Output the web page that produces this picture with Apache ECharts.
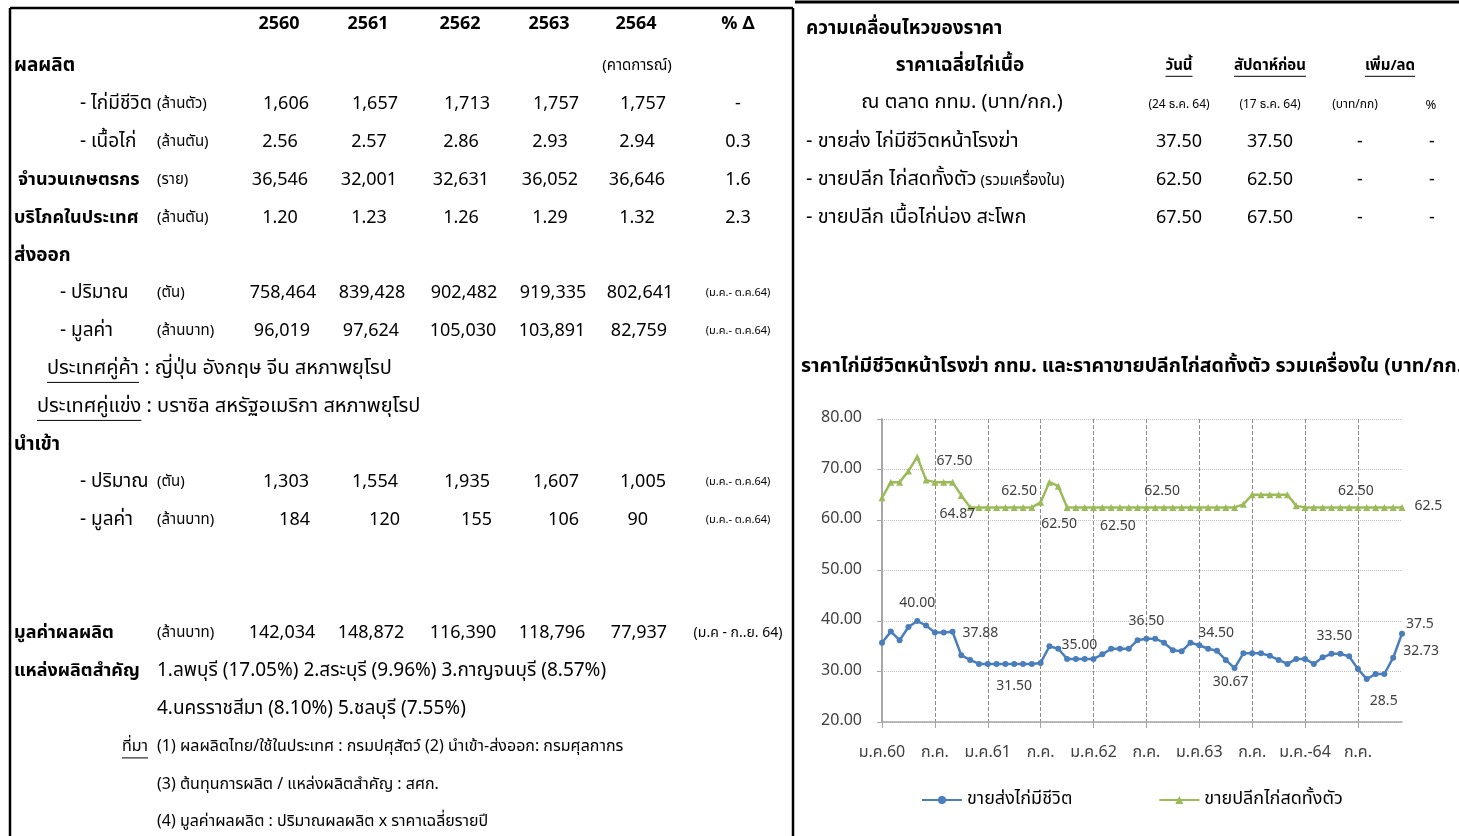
<!DOCTYPE html>
<html>
<head>
<meta charset="utf-8">
<script src="https://cdn.jsdelivr.net/npm/echarts@6/dist/echarts.min.js"></script>
<style>
  html, body { margin: 0; padding: 0; background: #fff; }
  #chart { width: 1459px; height: 836px; }
</style>
</head>
<body>
<div id="chart"></div>
<script>
// ---- table data ----
const yearCols = ['2560', '2561', '2562', '2563', '2564']
const prodLive = ['1,606', '1,657', '1,713', '1,757', '1,757']
const prodMeat = ['2.56', '2.57', '2.86', '2.93', '2.94']
const farmers = ['36,546', '32,001', '32,631', '36,052', '36,646']
const consumption = ['1.20', '1.23', '1.26', '1.29', '1.32']
const exportQty = ['758,464', '839,428', '902,482', '919,335', '802,641']
const exportVal = ['96,019', '97,624', '105,030', '103,891', '82,759']
const importQty = ['1,303', '1,554', '1,935', '1,607', '1,005']
const importVal = ['184', '120', '155', '106', '90']
const outputVal = ['142,034', '148,872', '116,390', '118,796', '77,937']
const pctChange = ['-', '0.3', '1.6', '2.3']

const priceRows = ['- ขายส่ง ไก่มีชีวิตหน้าโรงฆ่า', '- ขายปลีก ไก่สดทั้งตัว', '- ขายปลีก เนื้อไก่น่อง สะโพก']
const priceToday = ['37.50', '62.50', '67.50']
const priceLastWeek = ['37.50', '62.50', '67.50']
const priceChange = ['-', '-', '-']
const pricePct = ['-', '-', '-']

// ---- chart data (monthly, ม.ค.60 - ธ.ค.64) ----
const monthNames = ['ม.ค.', 'ก.พ.', 'มี.ค.', 'เม.ย.', 'พ.ค.', 'มิ.ย.', 'ก.ค.', 'ส.ค.', 'ก.ย.', 'ต.ค.', 'พ.ย.', 'ธ.ค.']
const yearShort = ['60', '61', '62', '63', '64']
const tickLabels = ['ม.ค.60', 'ก.ค.', 'ม.ค.61', 'ก.ค.', 'ม.ค.62', 'ก.ค.', 'ม.ค.63', 'ก.ค.', 'ม.ค.-64', 'ก.ค.']
const categories = []
yearShort.forEach(y => monthNames.forEach(m => categories.push(m + y)))

const wholesale = [
  35.7, 37.9, 36.2, 38.8, 40.0, 39.1, 37.7, 37.7, 37.88, 33.2, 32.3, 31.5,
  31.5, 31.5, 31.5, 31.5, 31.5, 31.5, 31.7, 35.0, 34.5, 32.5, 32.5, 32.5,
  32.5, 33.4, 34.5, 34.5, 34.5, 36.2, 36.5, 36.5, 35.7, 34.2, 34.0, 35.7,
  35.2, 34.5, 34.1, 32.3, 30.67, 33.6, 33.6, 33.6, 33.1, 32.3, 31.5, 32.5,
  32.5, 31.5, 32.8, 33.5, 33.5, 33.0, 30.5, 28.5, 29.5, 29.5, 32.73, 37.5
]
const retail = [
  64.4, 67.5, 67.5, 69.7, 72.5, 67.9, 67.5, 67.5, 67.5, 64.87, 62.5, 62.5,
  62.5, 62.5, 62.5, 62.5, 62.5, 62.5, 63.5, 67.5, 66.7, 62.5, 62.5, 62.5,
  62.5, 62.5, 62.5, 62.5, 62.5, 62.5, 62.5, 62.5, 62.5, 62.5, 62.5, 62.5,
  62.5, 62.5, 62.5, 62.5, 62.5, 63.1, 65.0, 65.0, 65.0, 65.0, 65.0, 62.8,
  62.5, 62.5, 62.5, 62.5, 62.5, 62.5, 62.5, 62.5, 62.5, 62.5, 62.5, 62.5
]

// which points carry a data label (index, position, offset, two-decimal format)
const wholesaleLabels = [
  { i: 4, pos: 'top', off: [0, -2], fix: true },
  { i: 8, pos: 'right', off: [2, 2], fix: true },
  { i: 15, pos: 'bottom', off: [0, 8], fix: true },
  { i: 19, pos: 'right', off: [4, 0], fix: true },
  { i: 30, pos: 'top', off: [0, -2], fix: true },
  { i: 37, pos: 'top', off: [8, 0], fix: true },
  { i: 40, pos: 'bottom', off: [-4, 0], fix: true },
  { i: 52, pos: 'top', off: [-6, -2], fix: true },
  { i: 55, pos: 'bottom', off: [17, 8], fix: false },
  { i: 58, pos: 'right', off: [2, -6], fix: false },
  { i: 59, pos: 'right', off: [-4, -8], fix: false }
]
const retailLabels = [
  { i: 8, pos: 'top', off: [2, -4], fix: true },
  { i: 9, pos: 'bottom', off: [-4, 4], fix: true },
  { i: 16, pos: 'top', off: [-4, 0], fix: true },
  { i: 21, pos: 'bottom', off: [-8, 2], fix: true },
  { i: 27, pos: 'bottom', off: [-2, 4], fix: true },
  { i: 32, pos: 'top', off: [-2, 0], fix: true },
  { i: 54, pos: 'top', off: [-2, 0], fix: true },
  { i: 59, pos: 'right', off: [4, 0], fix: false }
]

const FONT = "'Noto Sans Thai','Leelawadee UI',Tahoma,'DejaVu Sans',sans-serif"
const measureCtx = document.createElement('canvas').getContext('2d')

const fontStr = (size, bold) => (bold ? 'bold ' : '') + size + 'px ' + FONT
const DY = 3

const T = (x, y, text, size, opt = {}) => ({
  type: 'text',
  silent: true,
  style: {
    text: text,
    x: x,
    y: y + DY,
    font: fontStr(size, opt.bold),
    fill: opt.color || '#000',
    textAlign: opt.align || 'left',
    textVerticalAlign: 'middle'
  }
})

const L = (x1, y1, x2, y2, w, color) => ({
  type: 'line',
  silent: true,
  shape: { x1: x1, y1: y1, x2: x2, y2: y2 },
  style: { stroke: color || '#000', lineWidth: w }
})

const textW = (text, size, bold) => {
  measureCtx.font = fontStr(size, bold)
  return measureCtx.measureText(text).width
}

// underlined text
const U = (x, y, text, size, opt = {}) => {
  const w = textW(text, size, opt.bold)
  let x0 = x
  if (opt.align === 'center') x0 = x - w / 2
  if (opt.align === 'right') x0 = x - w
  const ly = y + DY + size * 0.62
  return [T(x, y, text, size, opt), L(x0, ly, x0 + w, ly, 1)]
}

const colX = [280, 369, 461, 550, 637]
const pctX = 738
const NUM = 18   // numbers
const TH = 19    // thai row text
const SM = 15    // units

const rowVals = (y, vals, shift = 0) => vals.map((v, k) => T(colX[k] + shift, y, v, NUM, { align: 'center' }))

let g = []

// frame
g.push(L(10, 8, 793, 8, 2.5))
g.push(L(10, 8, 10, 836, 2.5))
g.push(L(793, 8, 793, 836, 2.5))
g.push(L(795, 2, 1459, 2, 3))

// header
yearCols.forEach((y, k) => g.push(T(colX[k] - 1, 22, y, NUM, { bold: true, align: 'center' })))
g.push(T(pctX, 22, '% ∆', NUM, { bold: true, align: 'center' }))

g.push(T(14, 64, 'ผลผลิต', TH, { bold: true }))
g.push(T(637, 64, '(คาดการณ์)', SM, { align: 'center' }))

g.push(T(80, 102, '- ไก่มีชีวิต', TH))
g.push(T(157, 102, '(ล้านตัว)', SM))
g = g.concat(rowVals(102, prodLive, 6))
g.push(T(pctX, 102, pctChange[0], NUM, { align: 'center' }))

g.push(T(80, 140, '- เนื้อไก่', TH))
g.push(T(157, 140, '(ล้านตัน)', SM))
g = g.concat(rowVals(140, prodMeat))
g.push(T(pctX, 140, pctChange[1], NUM, { align: 'center' }))

g.push(T(18, 178, 'จำนวนเกษตรกร', NUM, { bold: true }))
g.push(T(157, 178, '(ราย)', SM))
g = g.concat(rowVals(178, farmers))
g.push(T(pctX, 178, pctChange[2], NUM, { align: 'center' }))

g.push(T(14, 216, 'บริโภคในประเทศ', NUM, { bold: true }))
g.push(T(157, 216, '(ล้านตัน)', SM))
g = g.concat(rowVals(216, consumption))
g.push(T(pctX, 216, pctChange[3], NUM, { align: 'center' }))

g.push(T(14, 254, 'ส่งออก', TH, { bold: true }))
g.push(T(60, 291, '- ปริมาณ', TH))
g.push(T(157, 291, '(ตัน)', SM))
g = g.concat(rowVals(291, exportQty, 3))
g.push(T(pctX, 291, '(ม.ค.- ต.ค.64)', 11, { align: 'center' }))
g.push(T(60, 329, '- มูลค่า', TH))
g.push(T(157, 329, '(ล้านบาท)', SM))
g = g.concat(rowVals(329, exportVal, 2))
g.push(T(pctX, 329, '(ม.ค.- ต.ค.64)', 11, { align: 'center' }))

g = g.concat(U(47, 367, 'ประเทศคู่ค้า', 20))
g.push(T(47 + textW('ประเทศคู่ค้า', 20), 367, ' : ญี่ปุ่น อังกฤษ จีน สหภาพยุโรป', 20))
g = g.concat(U(37, 405, 'ประเทศคู่แข่ง', 20))
g.push(T(37 + textW('ประเทศคู่แข่ง', 20), 405, ' : บราซิล สหรัฐอเมริกา สหภาพยุโรป', 20))

g.push(T(14, 443, 'นำเข้า', TH, { bold: true }))
g.push(T(80, 480, '- ปริมาณ', TH))
g.push(T(157, 480, '(ตัน)', SM))
g = g.concat(rowVals(480, importQty, 6))
g.push(T(pctX, 480, '(ม.ค.- ต.ค.64)', 11, { align: 'center' }))
g.push(T(80, 518, '- มูลค่า', TH))
g.push(T(157, 518, '(ล้านบาท)', SM))
const importValRight = [310, 400, 492, 579, 648]
importVal.forEach((v, k) => g.push(T(importValRight[k], 518, v, NUM, { align: 'right' })))
g.push(T(pctX, 518, '(ม.ค.- ต.ค.64)', 11, { align: 'center' }))

g.push(T(14, 631, 'มูลค่าผลผลิต', NUM, { bold: true }))
g.push(T(157, 631, '(ล้านบาท)', SM))
g = g.concat(rowVals(631, outputVal, 2))
g.push(T(pctX, 631, '(ม.ค - ก..ย. 64)', 14, { align: 'center' }))

g.push(T(14, 669, 'แหล่งผลิตสำคัญ', NUM, { bold: true }))
g.push(T(157, 669, '1.ลพบุรี (17.05%) 2.สระบุรี (9.96%) 3.กาญจนบุรี (8.57%)', TH))
g.push(T(157, 707, '4.นครราชสีมา (8.10%) 5.ชลบุรี (7.55%)', TH))

g = g.concat(U(122, 745, 'ที่มา', 16))
g.push(T(157, 745, '(1) ผลผลิตไทย/ใช้ในประเทศ : กรมปศุสัตว์ (2) นำเข้า-ส่งออก: กรมศุลกากร', 16))
g.push(T(157, 783, '(3) ต้นทุนการผลิต / แหล่งผลิตสำคัญ : สศก.', 16))
g.push(T(157, 820, '(4) มูลค่าผลผลิต : ปริมาณผลผลิต x ราคาเฉลี่ยรายปี', 16))

// right panel: price table
g.push(T(806, 27, 'ความเคลื่อนไหวของราคา', TH, { bold: true }))
g.push(T(960, 64, 'ราคาเฉลี่ยไก่เนื้อ', TH, { bold: true, align: 'center' }))
g = g.concat(U(1179, 64, 'วันนี้', 15, { bold: true, align: 'center' }))
g = g.concat(U(1270, 64, 'สัปดาห์ก่อน', 15, { bold: true, align: 'center' }))
g = g.concat(U(1390, 64, 'เพิ่ม/ลด', 15, { bold: true, align: 'center' }))
g.push(T(962, 101, 'ณ ตลาด กทม. (บาท/กก.)', 20, { align: 'center' }))
g.push(T(1179, 103, '(24 ธ.ค. 64)', 12, { align: 'center' }))
g.push(T(1270, 103, '(17 ธ.ค. 64)', 12, { align: 'center' }))
g.push(T(1355, 103, '(บาท/กก)', 12, { align: 'center' }))
g.push(T(1431, 103, '%', 13, { align: 'center' }))

const priceY = [140, 178, 216]
priceRows.forEach((r, k) => {
  g.push(T(806, priceY[k], r, 20))
  g.push(T(1179, priceY[k], priceToday[k], NUM, { align: 'center' }))
  g.push(T(1270, priceY[k], priceLastWeek[k], NUM, { align: 'center' }))
  g.push(T(1360, priceY[k], priceChange[k], NUM, { align: 'center' }))
  g.push(T(1432, priceY[k], pricePct[k], NUM, { align: 'center' }))
})
g.push(T(806 + textW(priceRows[1], 20) + 4, 179, '(รวมเครื่องใน)', 15))

g.push(T(801, 365, 'ราคาไก่มีชีวิตหน้าโรงฆ่า กทม. และราคาขายปลีกไก่สดทั้งตัว รวมเครื่องใน (บาท/กก.)', 19.5, { bold: true }))

const labelled = (values, defs) => values.map((v, i) => {
  const d = defs.find(e => e.i === i)
  if (!d) return v
  return {
    value: v,
    label: {
      show: true,
      position: d.pos,
      offset: d.off,
      formatter: p => (d.fix ? p.value.toFixed(2) : String(p.value))
    }
  }
})

const chart = echarts.init(document.getElementById('chart'))

const option = {
  animation: false,
  textStyle: { fontFamily: FONT },
  graphic: { elements: g },
  grid: { left: 882, top: 419, width: 520, height: 303, containLabel: false },
  legend: {
    left: 916,
    top: 786,
    itemGap: 86,
    itemWidth: 40,
    itemHeight: 10,
    textStyle: { fontSize: 18, color: '#000', fontFamily: FONT },
    data: ['ขายส่งไก่มีชีวิต', 'ขายปลีกไก่สดทั้งตัว']
  },
  xAxis: {
    type: 'category',
    boundaryGap: false,
    data: categories,
    axisLine: { lineStyle: { color: '#a6a6a6', width: 1.5 } },
    axisTick: { show: true, interval: 5, length: 6, lineStyle: { color: '#a6a6a6' } },
    axisLabel: {
      interval: 5,
      margin: 24,
      fontSize: 16,
      color: '#404040',
      formatter: (val, idx) => tickLabels[Math.floor(idx / 6)]
    },
    splitLine: { show: true, interval: 5, lineStyle: { color: '#8c8c8c', type: 'dashed', width: 1 } }
  },
  yAxis: {
    type: 'value',
    min: 20,
    max: 80,
    interval: 10,
    axisLine: { show: true, lineStyle: { color: '#a6a6a6', width: 2 } },
    axisTick: { show: true, length: 5, lineStyle: { color: '#a6a6a6' } },
    axisLabel: { fontSize: 16, color: '#404040', margin: 20, formatter: v => v.toFixed(2) },
    splitLine: { lineStyle: { color: '#bfbfbf', type: 'dotted' } }
  },
  series: [
    {
      name: 'ขายส่งไก่มีชีวิต',
      type: 'line',
      data: labelled(wholesale, wholesaleLabels),
      symbol: 'circle',
      symbolSize: 6,
      showSymbol: true,
      showAllSymbol: true,
      color: '#4a7ebb',
      lineStyle: { width: 2.5, color: '#4a7ebb' },
      itemStyle: { color: '#4a7ebb' },
      label: { fontSize: 14, color: '#404040' }
    },
    {
      name: 'ขายปลีกไก่สดทั้งตัว',
      type: 'line',
      data: labelled(retail, retailLabels),
      symbol: 'triangle',
      symbolSize: 7,
      showSymbol: true,
      showAllSymbol: true,
      color: '#9bbb59',
      lineStyle: { width: 2.5, color: '#9bbb59' },
      itemStyle: { color: '#9bbb59' },
      label: { fontSize: 14, color: '#404040' }
    }
  ]
}

chart.setOption(option)
</script>
</body>
</html>
